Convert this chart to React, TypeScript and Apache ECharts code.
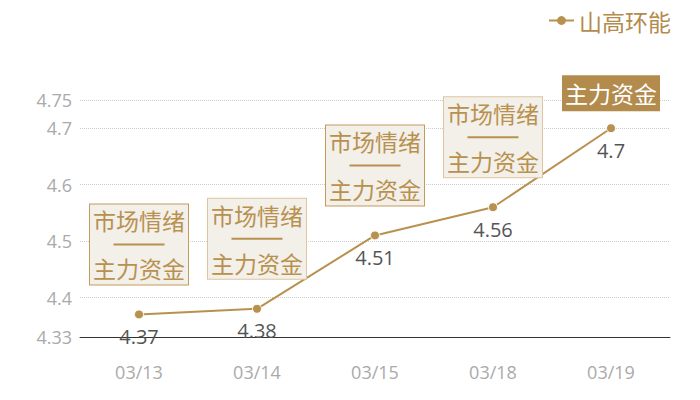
import React, { useEffect, useRef } from 'react'
import * as echarts from 'echarts'

const categories = ['03/13', '03/14', '03/15', '03/18', '03/19']
const prices = [4.37, 4.38, 4.51, 4.56, 4.7]
const seriesName = '山高环能'
// 每个点上方的提示框: full = 市场情绪/主力资金, main = 只有主力资金
const tagTypes = ['full', 'full', 'full', 'full', 'main']

const GOLD = '#b8914f'
const CJK = '"Noto Sans CJK SC", "Noto Sans", sans-serif'
const NUM = '"Open Sans", "Noto Sans", sans-serif'

const App = () => {
  const chartRef = useRef<HTMLDivElement>(null)

  useEffect(() => {
    document.body.style.margin = '0'
    if (!chartRef.current) return
    const chart = echarts.init(chartRef.current, undefined, { renderer: 'svg' })

    const markData = tagTypes.map((t, i) => {
      if (t === 'main') {
        return {
          coord: [categories[i], prices[i]],
          label: {
            formatter: '主力资金',
            distance: 17,
            color: '#fff',
            backgroundColor: '#b38b4d',
            padding: [6, 3],
            lineHeight: 24,
          },
        }
      }
      return {
        coord: [categories[i], prices[i]],
        label: {
          formatter: '{a|市场情绪}\n{l| }\n{a|主力资金}',
          distance: 30,
          backgroundColor: '#f3efe9',
          borderColor: i % 2 === 0 ? '#c49a5e' : '#dcc5a0',
          borderWidth: 1,
          padding: [4, 3],
          rich: {
            a: { color: GOLD, fontSize: 23, lineHeight: 24, fontFamily: CJK },
            l: { width: 51, height: 2, lineHeight: 24, backgroundColor: GOLD },
          },
        },
      }
    })

    const option = {
      animation: false,
      legend: {
        data: [seriesName],
        right: 24,
        top: 4,
        itemWidth: 25,
        itemHeight: 11,
        itemGap: 7,
        itemStyle: { borderWidth: 0 },
        textStyle: { color: '#b38b4d', fontSize: 23, fontFamily: CJK },
      },
      grid: { left: 80, right: 30, top: 100, bottom: 63 },
      xAxis: {
        type: 'category',
        data: categories,
        axisLine: { lineStyle: { color: '#333', width: 1 } },
        axisTick: { show: false },
        axisLabel: { color: '#aaa', fontSize: 18, margin: 26, fontFamily: NUM },
      },
      yAxis: {
        type: 'value',
        min: 4.33,
        max: 4.75,
        axisLine: { show: false },
        axisTick: { show: false },
        axisLabel: { color: '#aaa', fontSize: 18, margin: 8, fontFamily: NUM },
        splitLine: { lineStyle: { color: '#ccc', type: 'dotted' } },
      },
      series: [
        {
          name: seriesName,
          type: 'line',
          data: prices,
          symbol: 'circle',
          symbolSize: 9,
          itemStyle: { color: GOLD, borderColor: '#fff', borderWidth: 1 },
          lineStyle: { color: GOLD, width: 2 },
          label: {
            show: true,
            position: 'bottom',
            distance: 7,
            color: '#555',
            fontSize: 20,
            fontFamily: NUM,
          },
          markPoint: {
            symbol: 'circle',
            symbolSize: 0,
            label: {
              show: true,
              position: 'top',
              fontSize: 23,
              fontFamily: CJK,
            },
            data: markData,
          },
        },
      ],
    }

    chart.setOption(option)
    return () => {
      chart.dispose()
    }
  }, [])

  return <div ref={chartRef} style={{ width: 700, height: 400 }} />
}

export default App
